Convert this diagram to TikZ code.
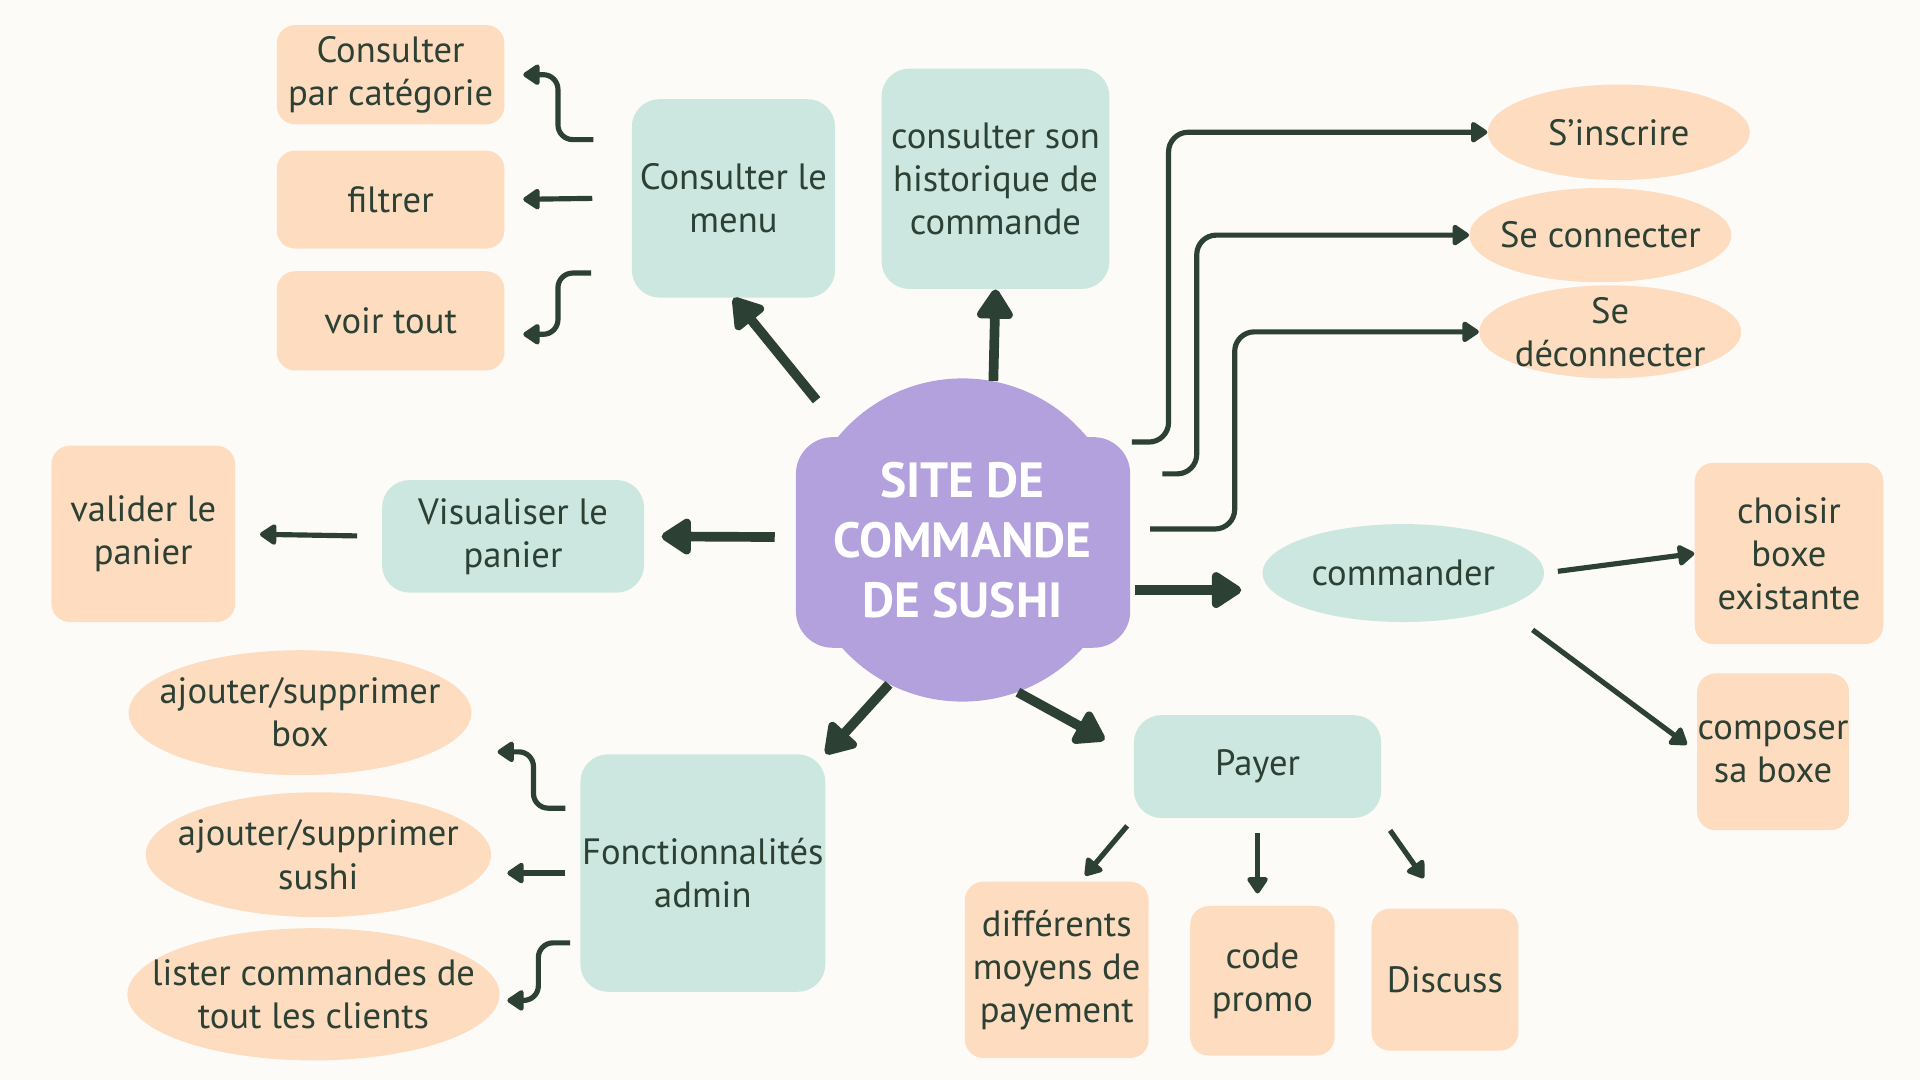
\documentclass[tikz,border=0pt]{standalone}
\usepackage{fontspec}
\setmainfont{PT Sans}
\usetikzlibrary{arrows.meta,shapes.geometric}
\definecolor{fond}{HTML}{FDFBF7}
\definecolor{peche}{HTML}{FDDCC0}
\definecolor{menthe}{HTML}{CCE7E0}
\definecolor{lilas}{HTML}{B3A1DD}
\definecolor{sombre}{HTML}{2C4034}

\begin{document}
\begin{tikzpicture}[x=0.02cm,y=-0.02cm,
	texte/.style={text=sombre,align=center,font=\fontsize{17}{20}\selectfont,inner sep=0pt},
	boitep/.style={texte,fill=peche,rounded corners=0.3cm},
	boitem/.style={texte,fill=menthe,rounded corners=0.45cm},
	bullep/.style={texte,fill=peche,ellipse,inner sep=-1cm},
	bullem/.style={texte,fill=menthe,ellipse,inner sep=-1cm},
	grosse/.style={draw=sombre,line width=4.5pt,-{Triangle[length=0.54cm,width=0.66cm,round]}},
	fine/.style={draw=sombre,line width=2.4pt,rounded corners=0.24cm,-{Triangle[length=0.3cm,width=0.38cm,round]}}]
	\fill[fond] (0,0) rectangle (1568,882);
	\useasboundingbox (0,0) rectangle (1568,882);
	
	% centre
	\fill[lilas] (786,441) circle[radius=2.64cm];
	\fill[lilas,rounded corners=0.6cm] (650,357) rectangle (923,529);
	\node[circle,minimum size=5.28cm,inner sep=0pt,text=white,align=center,font=\bfseries\fontsize{23}{28}\selectfont] (site) at (786,441) {SITE DE\\COMMANDE\\DE SUSHI};
	
	\node[boitem,minimum width=3.32cm,minimum height=3.24cm] (menu) at (599,162) {Consulter le\\menu};
	\node[boitem,minimum width=3.72cm,minimum height=3.6cm] (histo) at (813,146) {consulter son\\historique de\\commande};
	\node[boitep,minimum width=3.72cm,minimum height=1.62cm] (cat) at (319,61) {Consulter\\par catégorie};
	\node[boitep,minimum width=3.72cm,minimum height=1.6cm] (filtrer) at (319,163) {filtrer};
	\node[boitep,minimum width=3.72cm,minimum height=1.62cm] (voir) at (319,262) {voir tout};
	
	\node[bullep,minimum width=4.28cm,minimum height=1.56cm] (inscrire) at (1322,108) {S’inscrire};
	\node[bullep,minimum width=4.28cm,minimum height=1.54cm] (connecter) at (1307,192) {Se connecter};
	\node[bullep,minimum width=4.28cm,minimum height=1.52cm] (deconnecter) at (1315,271) {Se\\déconnecter};
	
	\node[boitem,minimum width=4.28cm,minimum height=1.84cm] (panier) at (419,438) {Visualiser le\\panier};
	\node[boitep,minimum width=3cm,minimum height=2.88cm] (valider) at (117,436) {valider le\\panier};
	
	\node[bullem,minimum width=4.6cm,minimum height=1.6cm] (commander) at (1146,468) {commander};
	\node[boitep,minimum width=3.08cm,minimum height=2.96cm] (choisir) at (1461,452) {choisir\\boxe\\existante};
	\node[boitep,minimum width=2.48cm,minimum height=2.56cm] (composer) at (1448,614) {composer\\sa boxe};
	
	\node[boitem,minimum width=4.04cm,minimum height=1.68cm] (payer) at (1027,626) {Payer};
	\node[boitep,minimum width=3cm,minimum height=2.88cm] (moyens) at (863,792) {différents\\moyens de\\payement};
	\node[boitep,minimum width=2.36cm,minimum height=2.44cm] (promo) at (1031,801) {code\\promo};
	\node[boitep,minimum width=2.4cm,minimum height=2.32cm] (discuss) at (1180,800) {Discuss};
	
	\node[boitem,minimum width=4cm,minimum height=3.88cm] (admin) at (574,713) {Fonctionnalités\\admin};
	\node[bullep,minimum width=5.6cm,minimum height=2.04cm] (addbox) at (245,582) {ajouter/supprimer\\box};
	\node[bullep,minimum width=5.64cm,minimum height=2.04cm] (addsushi) at (260,698) {ajouter/supprimer\\sushi};
	\node[bullep,minimum width=6.08cm,minimum height=2.16cm] (lister) at (256,812) {lister commandes de\\tout les clients};
	
	% fleches du centre
	\draw[grosse,shorten <=0.66cm] (site.138) -- (menu.south);
	\draw[grosse] (site.79) -- (histo.south);
	\draw[grosse,shorten <=0.42cm,shorten >=0.28cm] (site.179) -- (panier.east);
	\draw[grosse,shorten <=0.3cm,shorten >=0.34cm] (site.-18) -- (site.-18 -| commander.west);
	\draw[grosse] (site.243) -- (admin.north east);
	\draw[grosse,shorten >=0.54cm] (site.290) -- (payer.175);
	
	\foreach \cible/\dx/\dy/\l in {inscrire/6/-80/30,connecter/31/-54/28,deconnecter/21/-9/69}{
		\draw[fine,rounded corners=0.32cm] ([shift={(\dx,\dy)}]site.east) -- ++(\l,0) |- (\cible.west);
	}
	
	\draw[fine,shorten >=0.3cm] ([shift={(-31,-48)}]menu.west) -- ++(-29,0) |- (cat.east);
	\draw[fine,shorten >=0.3cm] ([xshift=-0.64cm]menu.west) -- (filtrer.east);
	\draw[fine,shorten >=0.3cm] ([shift={(-33,61)}]menu.west) -- ++(-27,0) |- ([yshift=-0.22cm]voir.east);
	
	\draw[fine,shorten <=0.4cm,shorten >=0.4cm] (panier.west) -- (valider.east);
	
	\draw[fine,shorten <=0.22cm] (commander.east) -- (choisir.west);
	\draw[fine,shorten <=0.6cm,shorten >=0.2cm] (commander.south east) -- (composer.west);
	
	\draw[fine,shorten <=0.16cm,shorten >=0.12cm] (payer.south west) -- (moyens.75);
	\draw[fine,shorten <=0.24cm,shorten >=0.2cm] (payer.south) -- (payer.south |- promo.north);
	\draw[fine,shorten <=0.24cm,shorten >=0.6cm] (payer.south east) -- (discuss.north);
	
	\draw[fine,shorten >=0.42cm] ([shift={(-12,-53)}]admin.west) -- ++(-26,0) |- ([yshift=-0.64cm]addbox.east);
	\draw[fine,shorten <=0.24cm,shorten >=0.26cm] (admin.west) -- (admin.west -| addsushi.east);
	\draw[fine,shorten >=0.12cm] ([shift={(-8,57)}]admin.west) -- ++(-26,0) |- ([yshift=-0.1cm]lister.east);
\end{tikzpicture}
\end{document}
